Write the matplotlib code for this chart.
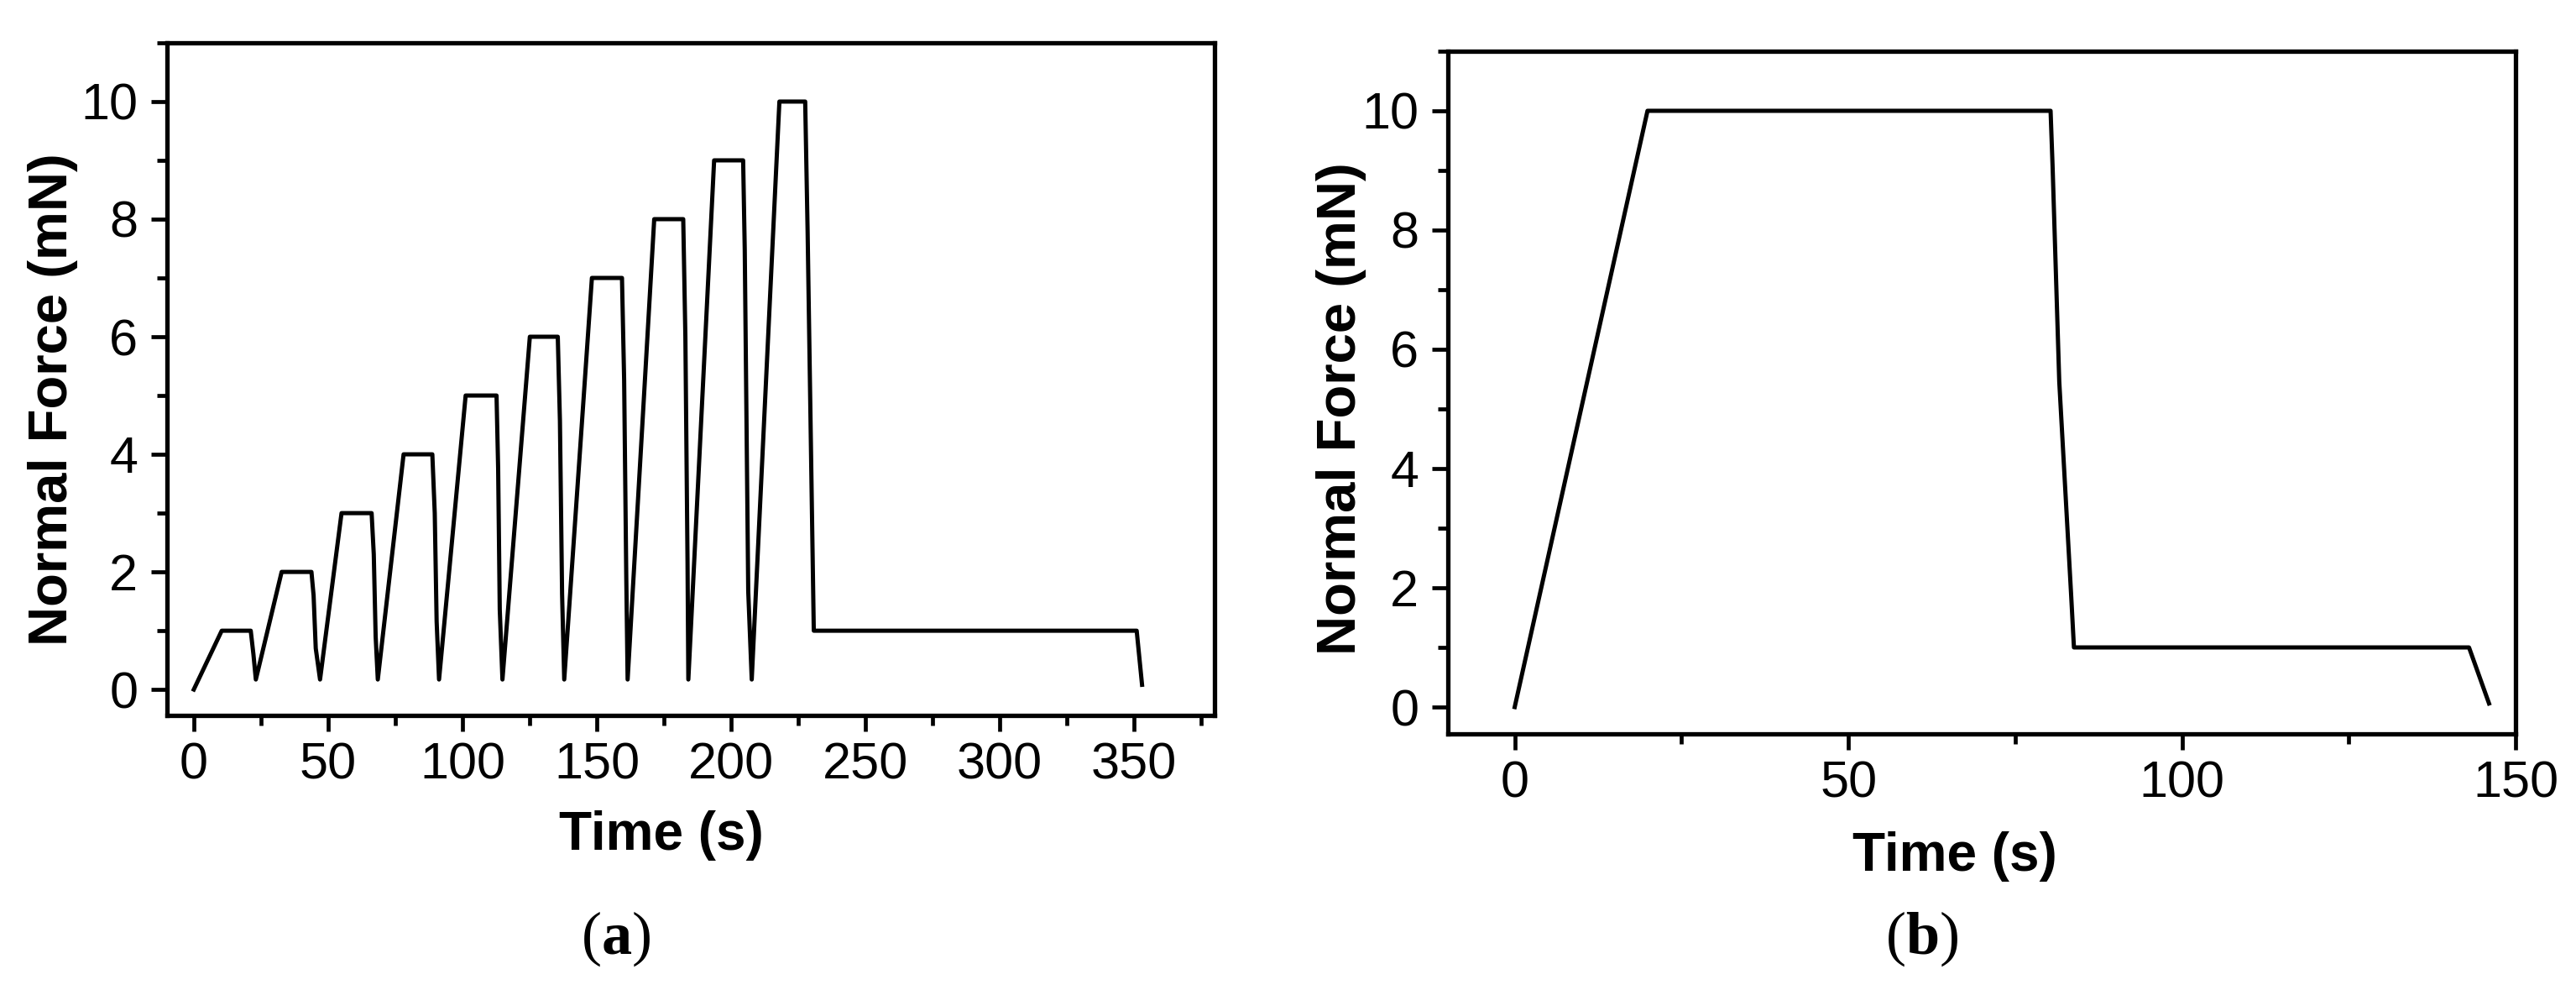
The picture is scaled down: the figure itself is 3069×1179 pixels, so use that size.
import matplotlib
matplotlib.use("Agg")
import matplotlib.pyplot as plt
from matplotlib.ticker import MultipleLocator

# (a) stepwise loading cycles, 1..10 mN
time_a = [0, 10.4, 21.2, 22.2, 23.1,
          32.7, 43.8, 44.6, 45.4, 47.0,
          55.0, 66.2, 67.0, 67.7, 68.5,
          78.1, 88.8, 89.7, 90.4, 91.3,
          101.2, 112.7, 113.3, 113.9, 114.9,
          125.1, 135.5, 136.3, 137.1, 137.9,
          148.2, 159.4, 160.2, 161.0, 161.5,
          171.4, 182.2, 183.0, 183.8, 184.1,
          193.7, 204.5, 205.1, 206.4, 207.7,
          218.0, 227.6, 228.5, 230.8, 351.0, 353.0]
force_a = [0, 1.0, 1.0, 0.6, 0.17,
           2.0, 2.0, 1.6, 0.7, 0.17,
           3.0, 3.0, 2.3, 0.9, 0.17,
           4.0, 4.0, 3.0, 1.16, 0.17,
           5.0, 5.0, 3.76, 1.36, 0.17,
           6.0, 6.0, 4.57, 1.63, 0.17,
           7.0, 7.0, 5.27, 1.9, 0.17,
           8.0, 8.0, 6.0, 2.17, 0.17,
           9.0, 9.0, 7.48, 1.67, 0.17,
           10.0, 10.0, 7.8, 1.0, 1.0, 0.08]

# (b) single load to 10 mN
time_b = [0, 19.9, 80.3, 80.6, 81.6, 82.5, 83.4, 83.8, 143.0, 146.0]
force_b = [0, 10.0, 10.0, 9.07, 5.46, 3.65, 1.84, 1.0, 1.0, 0.06]

tick_font = ["Liberation Sans Narrow", "Liberation Sans"]
label_font = ["Liberation Sans", "DejaVu Sans"]

fig = plt.figure(figsize=(30.69, 11.79), dpi=100)
ax_a = fig.add_axes([0.0648, 0.2774, 0.4067, 0.6794])
ax_b = fig.add_axes([0.5621, 0.2587, 0.4145, 0.6896])

ax_a.plot(time_a, force_a, color="black", lw=3.6)
ax_b.plot(time_b, force_b, color="black", lw=3.6)

ax_a.set_xlim(-10, 380)
ax_a.set_ylim(-0.44, 11.0)
ax_a.xaxis.set_major_locator(MultipleLocator(50))
ax_a.xaxis.set_minor_locator(MultipleLocator(25))

ax_b.set_xlim(-10, 150)
ax_b.set_ylim(-0.45, 11.0)
ax_b.xaxis.set_major_locator(MultipleLocator(50))
ax_b.xaxis.set_minor_locator(MultipleLocator(25))

for ax in (ax_a, ax_b):
    ax.yaxis.set_major_locator(MultipleLocator(2))
    ax.yaxis.set_minor_locator(MultipleLocator(1))
    for s in ax.spines.values():
        s.set_linewidth(3.8)
    ax.tick_params(which="major", direction="out", length=14, width=3.4,
                   top=False, right=False)
    ax.tick_params(which="minor", direction="out", length=8.5, width=3.4,
                   top=False, right=False)
    ax.tick_params(axis="x", which="major", pad=9)
    ax.tick_params(axis="y", which="major", pad=11)
    for lab in ax.get_xticklabels() + ax.get_yticklabels():
        lab.set_family(tick_font)
        lab.set_fontsize(44)
    ax.set_xlabel("Time (s)", family=tick_font, fontweight="bold",
                  fontsize=46, va="center")
    ax.set_ylabel("Normal Force (mN)", family=label_font, fontweight="bold",
                  fontsize=47, va="baseline")

ax_a.xaxis.set_label_coords(0.472, -0.1785)
ax_b.xaxis.set_label_coords(0.475, -0.1796)
ax_a.yaxis.set_label_coords(-0.0954, 0.47)
ax_b.yaxis.set_label_coords(-0.0865, 0.476)

plt.rcParams["mathtext.fontset"] = "custom"
plt.rcParams["mathtext.rm"] = "Liberation Serif"
plt.rcParams["mathtext.bf"] = "Liberation Serif:bold"
fig.text(734 / 3069, 1 - 1118 / 1179, r"$\mathrm{(}\mathbf{a}\mathrm{)}$",
         fontsize=52, ha="center", va="center")
fig.text(2290 / 3069, 1 - 1118 / 1179, r"$\mathrm{(}\mathbf{b}\mathrm{)}$",
         fontsize=52, ha="center", va="center")

fig.savefig("out.png", dpi=100, facecolor="white")
